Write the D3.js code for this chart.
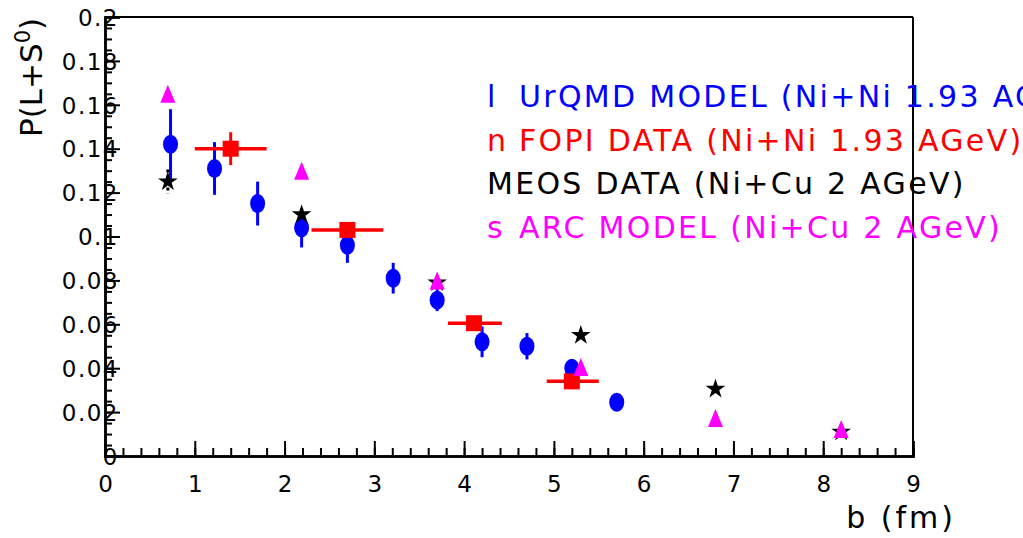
<!DOCTYPE html>
<html><head><meta charset="utf-8">
<script src="https://cdn.jsdelivr.net/npm/d3@7"></script>
<style>body{margin:0;background:#fff}svg{display:block}text{font-family:"DejaVu Sans",sans-serif}</style>
</head><body>
<svg id="c" width="1023" height="538"></svg>
<script>
// UrQMD model (blue circles) : b, P, error
const urqmdB   = [0.73, 1.22, 1.70, 2.19, 2.70, 3.21, 3.70, 4.20, 4.70, 5.20, 5.70];
const urqmdP   = [0.142, 0.131, 0.115, 0.104, 0.096, 0.081, 0.071, 0.052, 0.050, 0.040, 0.0245];
const urqmdErr = [0.016, 0.012, 0.010, 0.009, 0.008, 0.007, 0.005, 0.007, 0.006, 0.003, 0.0];
// FOPI data (red squares): b centre, bin low, bin high, P, error
const fopiB    = [1.40, 2.70, 4.11, 5.20];
const fopiLo   = [1.00, 2.30, 3.82, 4.92];
const fopiHi   = [1.80, 3.10, 4.42, 5.50];
const fopiP    = [0.140, 0.103, 0.0605, 0.034];
const fopiErr  = [0.0075, 0.003, 0.003, 0.003];
// MEOS data (black stars)
const meosB    = [0.70, 2.19, 3.70, 5.30, 6.80, 8.20];
const meosP    = [0.125, 0.110, 0.079, 0.055, 0.0305, 0.011];
const meosErr  = [0.0055, 0, 0, 0, 0, 0];
// ARC model (magenta triangles)
const arcB     = [0.70, 2.19, 3.70, 5.30, 6.80, 8.20];
const arcP     = [0.165, 0.130, 0.080, 0.0405, 0.0173, 0.0123];

const xTicks = d3.range(0, 10, 1);
const yTicks = d3.range(0, 0.2001, 0.02);
const xTickLabels = xTicks.map(d => String(d));
const yTickLabels = ["0","0.02","0.04","0.06","0.08","0.1","0.12","0.14","0.16","0.18","0.2"];
const legendMarks = ["l", "n", "", "s"];
const legendTexts = ["UrQMD MODEL (Ni+Ni 1.93 AGeV)", "FOPI DATA (Ni+Ni 1.93 AGeV)", "MEOS DATA (Ni+Cu 2 AGeV)", "ARC MODEL (Ni+Cu 2 AGeV)"];
const legendColors = ["#0000ff", "#ff0000", "#000000", "#ff00ff"];

const svg = d3.select("#c");
const x = d3.scaleLinear().domain([0, 9]).range([105, 913]);
const y = d3.scaleLinear().domain([0, 0.2]).range([456, 17]);

// frame
const g = svg.append("g");
g.append("line").attr("x1", x(0)).attr("x2", x(9)).attr("y1", y(0.2)).attr("y2", y(0.2)).attr("stroke", "#000").attr("stroke-width", 2);
g.append("line").attr("x1", x(9)).attr("x2", x(9)).attr("y1", y(0.2)).attr("y2", y(0)).attr("stroke", "#000").attr("stroke-width", 2);

// x axis
const xMinor = svg.append("g").attr("transform", `translate(0,${y(0)})`)
  .call(d3.axisBottom(x).tickValues(d3.range(0, 9.001, 0.2)).tickSize(-8).tickFormat(""));
const xMajor = svg.append("g").attr("transform", `translate(0,${y(0)})`)
  .call(d3.axisBottom(x).tickValues(xTicks).tickSize(-15).tickFormat((d, i) => xTickLabels[i]));
[xMinor, xMajor].forEach(a => { a.selectAll("path").attr("stroke-width", 2.5); a.selectAll("line").attr("stroke-width", 2); });
xMajor.selectAll("text").attr("y", 36).attr("dy", 0).attr("font-size", 23).attr("fill", "#000");

// y axis
const yMinor = svg.append("g").attr("transform", `translate(${x(0)},0)`)
  .call(d3.axisLeft(y).tickValues(d3.range(0, 0.2001, 0.005)).tickSize(-7).tickFormat(""));
const yMajor = svg.append("g").attr("transform", `translate(${x(0)},0)`)
  .call(d3.axisLeft(y).tickValues(yTicks).tickSize(-15).tickFormat((d, i) => yTickLabels[i]));
[yMinor, yMajor].forEach(a => { a.selectAll("path").attr("stroke-width", 2.5); a.selectAll("line").attr("stroke-width", 2); });
yMajor.selectAll("text").attr("x", 14).attr("dy", "0.36em").attr("font-size", 23).attr("fill", "#000").attr("letter-spacing", 1.5);

// axis titles
svg.append("text").attr("x", 956).attr("y", 528).attr("text-anchor", "end")
  .attr("font-size", 30).attr("letter-spacing", 3).text("b  (fm)");
const yl = svg.append("text").attr("transform", "translate(42,137) rotate(-90)").attr("font-size", 31);
yl.append("tspan").text("P(L+S");
yl.append("tspan").attr("dy", -12).attr("font-size", 21).text("0");
yl.append("tspan").attr("dy", 12).text(")");

// UrQMD
const blue = "#0000ff";
svg.append("g").selectAll("line").data(urqmdB).join("line")
  .attr("x1", d => x(d)).attr("x2", d => x(d))
  .attr("y1", (d, i) => y(urqmdP[i] + urqmdErr[i])).attr("y2", (d, i) => y(urqmdP[i] - urqmdErr[i]))
  .attr("stroke", blue).attr("stroke-width", 3);
svg.append("g").selectAll("ellipse").data(urqmdB).join("ellipse")
  .attr("cx", d => x(d)).attr("cy", (d, i) => y(urqmdP[i])).attr("rx", 7.5).attr("ry", 9.5).attr("fill", blue);

// FOPI
const red = "#ff0000";
const fg = svg.append("g");
fg.selectAll("line.h").data(fopiB).join("line").attr("class", "h")
  .attr("x1", (d, i) => x(fopiLo[i])).attr("x2", (d, i) => x(fopiHi[i]))
  .attr("y1", (d, i) => y(fopiP[i])).attr("y2", (d, i) => y(fopiP[i]))
  .attr("stroke", red).attr("stroke-width", 3.5);
fg.selectAll("line.v").data(fopiB).join("line").attr("class", "v")
  .attr("x1", d => x(d)).attr("x2", d => x(d))
  .attr("y1", (d, i) => y(fopiP[i] + fopiErr[i])).attr("y2", (d, i) => y(fopiP[i] - fopiErr[i]))
  .attr("stroke", red).attr("stroke-width", 3);
fg.selectAll("rect").data(fopiB).join("rect")
  .attr("x", d => x(d) - 8).attr("y", (d, i) => y(fopiP[i]) - 8).attr("width", 16).attr("height", 16).attr("fill", red);

// MEOS
const mg = svg.append("g");
const meosIdx = meosB.map((d, i) => i).filter(i => meosErr[i] > 0);
mg.selectAll("line").data(meosIdx).join("line")
  .attr("x1", i => x(meosB[i])).attr("x2", i => x(meosB[i]))
  .attr("y1", i => y(meosP[i] + meosErr[i])).attr("y2", i => y(meosP[i] - meosErr[i]))
  .attr("stroke", "#000").attr("stroke-width", 3).attr("stroke-dasharray", "3,3");
const star = d3.symbol().type(d3.symbolStar).size(120);
mg.selectAll("path").data(meosB).join("path")
  .attr("transform", (d, i) => `translate(${x(d)},${y(meosP[i])})`).attr("d", star).attr("fill", "#000");

// ARC
svg.append("g").selectAll("path").data(arcB).join("path")
  .attr("transform", (d, i) => `translate(${x(d)},${y(arcP[i])})`)
  .attr("d", "M0,-9L7.5,9L-7.5,9Z").attr("fill", "#ff00ff");

// legend
const lg = svg.append("g");
legendTexts.forEach((t, i) => {
  const tx = lg.append("text").attr("y", 107 + i * 43.5).attr("font-size", 30)
    .attr("letter-spacing", 2.3).attr("fill", legendColors[i]);
  if (legendMarks[i]) tx.append("tspan").attr("x", 487).text(legendMarks[i]);
  tx.append("tspan").attr("x", legendMarks[i] ? 519 : 487).text(t);
});
</script>
</body></html>
